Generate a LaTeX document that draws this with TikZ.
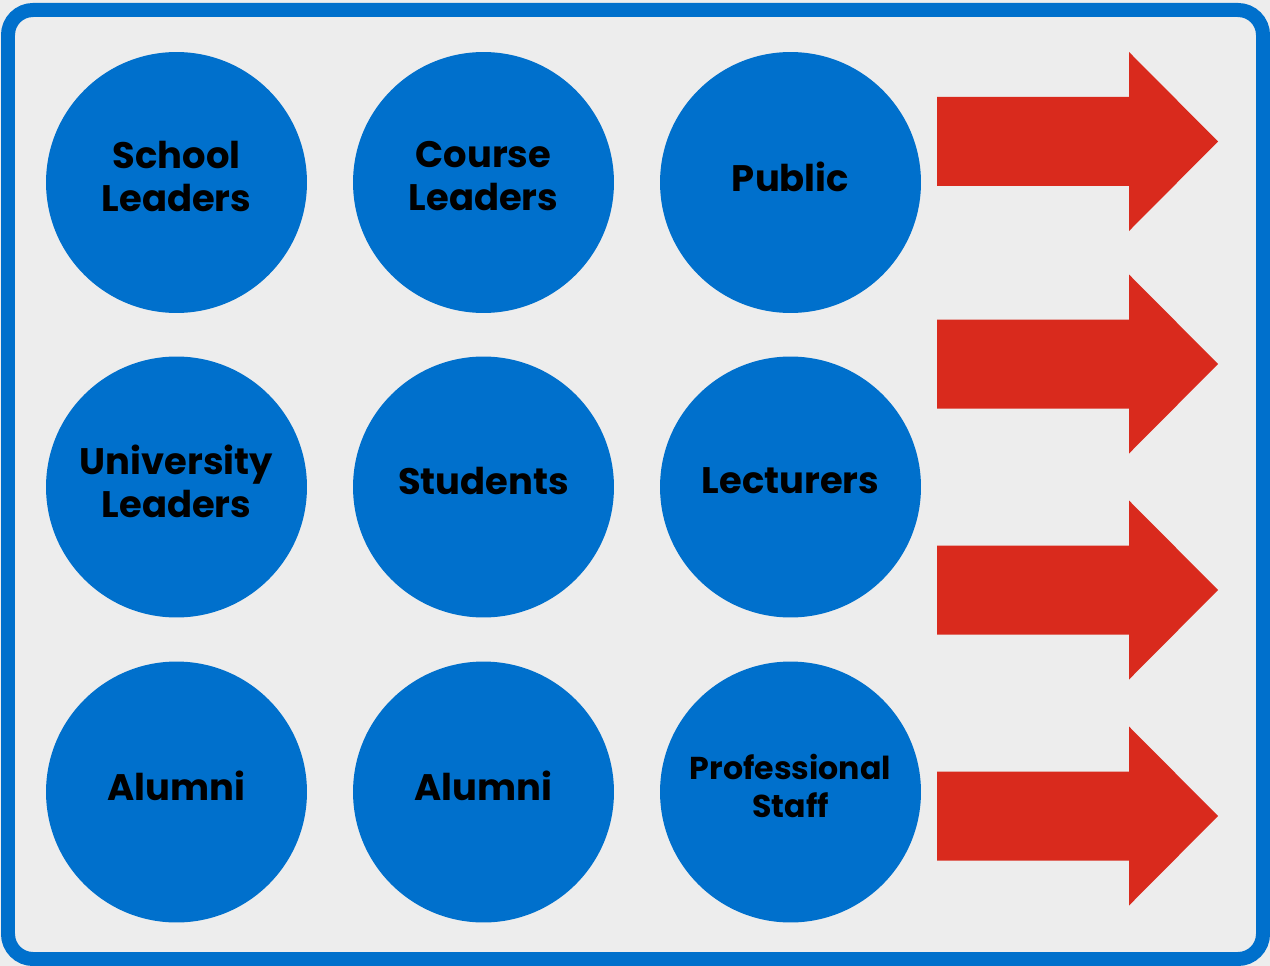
\documentclass[tikz,border=0pt]{standalone}
\usepackage{fontspec}
\usepackage{tikz}
\usetikzlibrary{calc}
\newfontfamily\grpfont{Poppins}[UprightFont=*-Bold]
\definecolor{grpblue}{RGB}{0,112,204}
\definecolor{grpred}{RGB}{217,42,29}
\definecolor{bggray}{RGB}{237,237,237}
\tikzset{
  grp/.style={circle, fill=grpblue, minimum size=5.22cm, inner sep=0pt},
  grptext/.style={align=center, inner sep=0pt, yshift=0.12cm,
    font=\grpfont\fontsize{21}{24.5}\selectfont},
  grpsmall/.style={grptext, font=\grpfont\fontsize{18}{21.5}\selectfont},
  bigarrow/.style={fill=grpred},
  frame/.style={draw=grpblue, line width=0.28cm, rounded corners=0.5cm}
}
\begin{document}
\begin{tikzpicture}[x=0.02cm, y=-0.02cm]
    \fill[bggray] (0,0) rectangle (1270,966);
    \useasboundingbox (0,0) rectangle (1270,966);
    \draw[frame] (8,10) rectangle (1263,959);
    % circles
    \node[grp] (school) at (176.5,182.5) {};
    \node[grp] (course) at (483.5,182.5) {};
    \node[grp] (public) at (790.5,182.5) {};
    \node[grp] (univ) at (176.5,487) {};
    \node[grp] (students) at (483.5,487) {};
    \node[grp] (lect) at (790.5,487) {};
    \node[grp] (alumni1) at (176.5,792) {};
    \node[grp] (alumni2) at (483.5,792) {};
    \node[grp] (staff) at (790.5,792) {};
    % labels
    \node[grptext] (school-t) at (school) {School\\Leaders};
    \node[grptext] (course-t) at (course) {Course\\Leaders};
    \node[grptext] (public-t) at (public) {Public};
    \node[grptext] (univ-t) at (univ) {University\\Leaders};
    \node[grptext] (students-t) at (students) {Students};
    \node[grptext] (lect-t) at (lect) {Lecturers};
    \node[grptext] (alumni1-t) at (alumni1) {Alumni};
    \node[grptext] (alumni2-t) at (alumni2) {Alumni};
    \node[grpsmall] (staff-t) at (staff) {Professional\\Staff};
    % arrows
    \foreach \y in {141.5,364,590,816}
      \fill[bigarrow] (937,\y-44.5) -- (1129,\y-44.5) -- (1129,\y-89.5)
        -- (1218,\y) -- (1129,\y+89.5) -- (1129,\y+44.5) -- (937,\y+44.5) -- cycle;
\end{tikzpicture}
\end{document}
